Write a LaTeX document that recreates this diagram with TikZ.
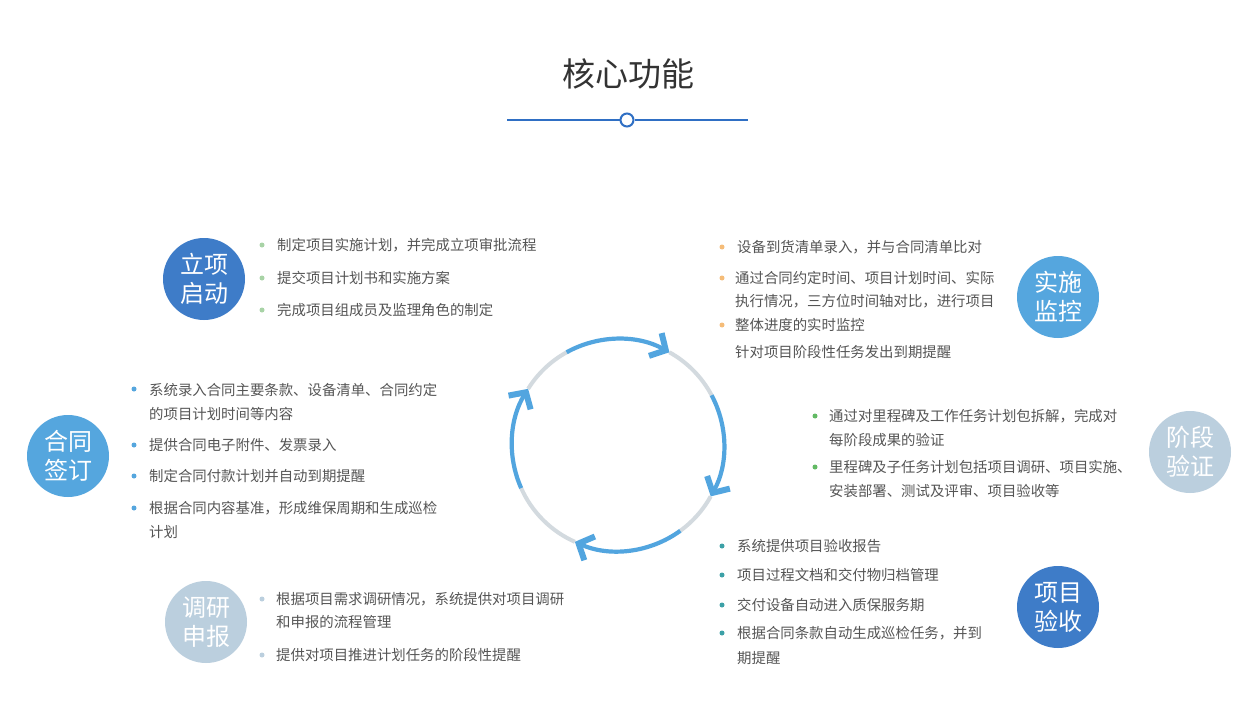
\documentclass[tikz,border=0pt]{standalone}
\usepackage{fontspec}
\setmainfont{Noto Sans CJK SC}
\usepackage{xcolor}
\usetikzlibrary{arrows.meta}

\definecolor{deepblue}{HTML}{3E7CC8}
\definecolor{midblue}{HTML}{55A6DE}
\definecolor{paleblue}{HTML}{BBCFDE}
\definecolor{ringblue}{HTML}{52A5DF}
\definecolor{ringgray}{HTML}{D3DADF}
\definecolor{lineblue}{HTML}{2F6FC4}
\definecolor{txtgray}{HTML}{555555}
\definecolor{dotgreen}{HTML}{A8D3A6}
\definecolor{dotorange}{HTML}{F5BC78}
\definecolor{dotleaf}{HTML}{62BA64}
\definecolor{dotteal}{HTML}{3CA1A7}

\begin{document}
\begin{tikzpicture}[
    x=1pt, y=-1pt,
    stage/.style={circle, minimum size=82pt, inner sep=0pt, text=white, align=center,
                  font=\fontsize{24}{29}\selectfont},
    item/.style={anchor=west, inner sep=0pt, text=txtgray, font=\fontsize{14.4}{14.4}\selectfont},
    dot/.style={circle, inner sep=0pt, minimum size=5pt},
    blueseg/.style={ringblue, line width=4.2pt,
                    -{Straight Barb[length=12pt,width=26pt,line width=6pt]}},
    grayseg/.style={ringgray, line width=4pt}
]
\useasboundingbox[fill=white] (0,0) rectangle (1259,717);

% Title
\node[font=\fontsize{33}{33}\selectfont, text=black!80] (title) at (628,74) {核心功能};
\coordinate (tl) at (507,120);
\coordinate (tr) at (748,120);
\node[circle, draw=lineblue, line width=2pt, fill=white, minimum size=13pt, inner sep=0pt] (knob) at (627,120) {};
\draw[lineblue, line width=1.6pt] (tl) -- (knob);
\draw[lineblue, line width=1.6pt] (knob) -- (tr);

% Cycle
\coordinate (hub) at (618,445);
\draw[grayseg] (hub) ++(61:106pt) arc[start angle=61, end angle=28, radius=106pt];
\draw[grayseg] (hub) ++(-29:106pt) arc[start angle=-29, end angle=-54, radius=106pt];
\draw[grayseg] (hub) ++(-114:106pt) arc[start angle=-114, end angle=-156, radius=106pt];
\draw[grayseg] (hub) ++(148:106pt) arc[start angle=148, end angle=119, radius=106pt];
\draw[blueseg] (hub) ++(119:106pt) arc[start angle=119, end angle=61, radius=106pt];
\draw[blueseg] (hub) ++(28:106pt) arc[start angle=28, end angle=-29, radius=106pt];
\draw[blueseg] (hub) ++(-54:106pt) arc[start angle=-54, end angle=-114, radius=106pt];
\draw[blueseg] (hub) ++(-156:106pt) arc[start angle=-156, end angle=-212, radius=106pt];

% Stages
\node[stage, fill=deepblue] (start) at (204,279) {立项\\启动};
\node[stage, fill=midblue] (monitor) at (1058,297) {实施\\监控};
\node[stage, fill=midblue] (contract) at (68,456) {合同\\签订};
\node[stage, fill=paleblue] (verify) at (1190,452) {阶段\\验证};
\node[stage, fill=paleblue] (survey) at (206,622) {调研\\申报};
\node[stage, fill=deepblue] (accept) at (1058,607) {项目\\验收};

% 立项启动
\foreach \y/\t in {245/制定项目实施计划，并完成立项审批流程, 278/提交项目计划书和实施方案,
                   310/完成项目组成员及监理角色的制定} {
  \node[dot, fill=dotgreen] at (262,\y) {};
  \node[item] at (277,\y) {\t};
}

% 实施监控
\foreach \y in {247,278,325} \node[dot, fill=dotorange] at (722,\y) {};
\node[item] (m1) at (737,247) {设备到货清单录入，并与合同清单比对};
\node[item] (m2) at (735,278) {通过合同约定时间、项目计划时间、实际};
\node[item] (m3) at (735,301) {执行情况，三方位时间轴对比，进行项目};
\node[item] (m4) at (735,325) {整体进度的实时监控};
\node[item] (m5) at (735,352) {针对项目阶段性任务发出到期提醒};

% 阶段验证
\foreach \y in {416,467} \node[dot, fill=dotleaf] at (815,\y) {};
\node[item] (v1) at (829,416) {通过对里程碑及工作任务计划包拆解，完成对};
\node[item] (v2) at (829,440) {每阶段成果的验证};
\node[item] (v3) at (829,467) {里程碑及子任务计划包括项目调研、项目实施、};
\node[item] (v4) at (829,491) {安装部署、测试及评审、项目验收等};

% 项目验收
\foreach \y in {546,575,605,633} \node[dot, fill=dotteal] at (722,\y) {};
\node[item] (a1) at (737,546) {系统提供项目验收报告};
\node[item] (a2) at (737,575) {项目过程文档和交付物归档管理};
\node[item] (a3) at (737,605) {交付设备自动进入质保服务期};
\node[item] (a4) at (737,633) {根据合同条款自动生成巡检任务，并到};
\node[item] (a5) at (737,658) {期提醒};

% 合同签订
\foreach \y in {389,445,476,508} \node[dot, fill=midblue] at (134,\y) {};
\node[item] (c1) at (149,390) {系统录入合同主要条款、设备清单、合同约定};
\node[item] (c2) at (149,414) {的项目计划时间等内容};
\node[item] (c3) at (149,445) {提供合同电子附件、发票录入};
\node[item] (c4) at (149,476) {制定合同付款计划并自动到期提醒};
\node[item] (c5) at (149,508) {根据合同内容基准，形成维保周期和生成巡检};
\node[item] (c6) at (149,532) {计划};

% 调研申报
\foreach \y in {599,655} \node[dot, fill=paleblue] at (262,\y) {};
\node[item] (s1) at (276,599) {根据项目需求调研情况，系统提供对项目调研};
\node[item] (s2) at (276,622) {和申报的流程管理};
\node[item] (s3) at (276,655) {提供对项目推进计划任务的阶段性提醒};
\end{tikzpicture}
\end{document}
